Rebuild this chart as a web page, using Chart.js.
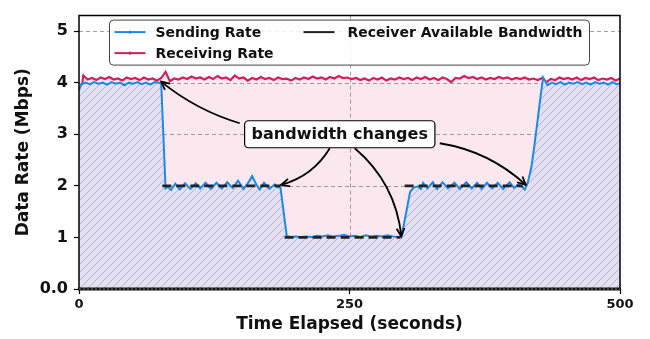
<!DOCTYPE html>
<html>
<head>
<meta charset="utf-8">
<script src="https://cdn.jsdelivr.net/npm/chart.js@4.4.1/dist/chart.umd.min.js"></script>
<style>
  html, body { margin: 0; padding: 0; background: #fff; }
  #wrap { width: 650px; height: 339px; }
</style>
</head>
<body>
<div id="wrap"><canvas id="rateChart" width="650" height="339"></canvas></div>
<script>
// Sending rate samples: time (s) and rate (Mbps)
const sendTimes = [
  0, 2, 6, 10, 14, 18, 22, 26, 30, 34, 38, 42, 46, 50, 54, 58, 62, 66, 70, 74, 76,
  80, 82, 85, 89, 93, 98, 103, 108, 112, 117, 122, 127, 132, 137, 142, 147, 152, 156, 160, 164, 167, 171, 176, 181, 184, 186,
  192, 196, 200, 205, 210, 215, 220, 225, 230, 235, 240, 245, 250, 255, 260, 265, 270, 275, 280, 285, 290, 295, 297,
  300, 303, 306, 309, 313, 316, 318, 322, 327, 331, 336, 341, 347, 352, 358, 363, 368, 372, 377, 382, 387, 392, 398, 402, 406, 410,
  412, 415, 418, 421, 424, 427, 429, 433, 437, 441, 445, 449, 453, 457, 461, 465, 469, 473, 477, 481, 485, 489, 493, 497, 500
];
const sendRates = [
  3.85, 3.97, 4.00, 3.97, 4.01, 3.98, 4.00, 3.96, 4.01, 3.98, 4.00, 3.95, 4.00, 3.98, 4.01, 3.97, 4.00, 3.96, 4.01, 4.00, 3.98,
  1.95, 1.98, 1.92, 2.04, 1.93, 2.05, 1.94, 2.05, 1.95, 2.06, 1.94, 2.06, 1.95, 2.07, 1.96, 2.10, 1.94, 2.05, 2.19, 2.02, 1.93, 2.06, 1.94, 2.03, 1.97, 2.00,
  1.03, 1.01, 1.02, 1.01, 1.02, 1.01, 1.03, 1.02, 1.04, 1.02, 1.03, 1.05, 1.02, 1.03, 1.01, 1.04, 1.02, 1.03, 1.02, 1.04, 1.02, 1.01, 1.01,
  1.22, 1.55, 1.88, 1.96, 1.99, 1.94, 2.06, 1.95, 2.07, 1.94, 2.07, 1.95, 2.06, 1.94, 2.07, 1.95, 2.06, 1.94, 2.06, 1.95, 2.06, 1.94, 2.07, 1.96, 2.03, 1.97,
  1.93, 2.08, 2.35, 2.80, 3.30, 3.80, 4.10, 3.95, 4.00, 3.97, 4.01, 3.96, 4.00, 3.98, 4.01, 3.97, 4.00, 3.96, 4.01, 3.98, 4.00, 3.96, 4.01, 3.97, 3.99
];

// Receiving rate, one sample every recvStep seconds from 0 to 500
const recvStep = 4;
const recvRates = [
  3.55, 4.14, 4.06, 4.09, 4.05, 4.10, 4.07, 4.11, 4.06, 4.08,
  4.04, 4.10, 4.07, 4.09, 4.05, 4.10, 4.06, 4.08, 4.04, 4.09,
  4.21, 4.03, 4.08, 4.06, 4.10, 4.07, 4.12, 4.08, 4.10, 4.06,
  4.11, 4.07, 4.13, 4.08, 4.10, 4.05, 4.14, 4.08, 4.10, 4.04,
  4.09, 4.06, 4.11, 4.07, 4.09, 4.05, 4.10, 4.07, 4.08, 4.04,
  4.09, 4.06, 4.10, 4.07, 4.12, 4.08, 4.10, 4.06, 4.11, 4.08,
  4.13, 4.09, 4.10, 4.07, 4.09, 4.05, 4.08, 4.04, 4.09, 4.06,
  4.10, 4.04, 4.08, 4.06, 4.10, 4.07, 4.09, 4.05, 4.10, 4.07,
  4.11, 4.06, 4.09, 4.05, 4.10, 4.07, 4.01, 4.09, 4.08, 4.13,
  4.09, 4.11, 4.07, 4.10, 4.06, 4.09, 4.07, 4.11, 4.08, 4.10,
  4.06, 4.09, 4.07, 4.10, 4.06, 4.08, 4.05, 4.09, 4.01, 4.07,
  4.05, 4.10, 4.07, 4.09, 4.06, 4.10, 4.05, 4.09, 4.07, 4.10,
  4.05, 4.08, 4.06, 4.09, 4.04, 4.08
];

// Receiver available bandwidth steps (null breaks the line)
const bwTimes = [77, 186, 188, 190, 297, 299, 301, 410];
const bwRates = [2, 2, null, 1, 1, null, 2, 2];

const xTicks = [0, 250, 500];
const yTicks = [0, 1, 2, 3, 4, 5];

// annotation: label placed at (time, rate), arrows pointing at the bandwidth changes
const noteText = 'bandwidth changes';
const noteAt = [241, 3.0];
const noteTargets = [[75, 4], [186, 2], [297, 1], [412, 2]];

const FONT = "'DejaVu Sans', 'Liberation Sans', sans-serif";

// diagonal hatch used under the sending rate
function makeHatch() {
  const s = 8;
  const c = document.createElement('canvas');
  c.width = s; c.height = s;
  const g = c.getContext('2d');
  g.fillStyle = '#e4e0f1';
  g.fillRect(0, 0, s, s);
  g.strokeStyle = '#afb1db';
  g.lineWidth = 1;
  g.beginPath();
  g.moveTo(0, s); g.lineTo(s, 0);
  g.moveTo(-1, 1); g.lineTo(1, -1);
  g.moveTo(s - 1, s + 1); g.lineTo(s + 1, s - 1);
  g.stroke();
  return g.createPattern(c, 'repeat');
}

const sendData = sendTimes.map((t, i) => ({ x: t, y: sendRates[i] }));
const recvData = recvRates.map((v, i) => ({ x: i * recvStep, y: v }));
const bwData = bwTimes.map((t, i) => ({ x: t, y: bwRates[i] }));

// dashed grid drawn over the fills, under the lines
const gridOnTop = {
  id: 'gridOnTop',
  beforeDatasetsDraw(chart) {
    const { ctx, chartArea: a, scales: { x, y } } = chart;
    ctx.save();
    ctx.strokeStyle = '#8a8a8a';
    ctx.lineWidth = 0.8;
    ctx.setLineDash([4, 3]);
    yTicks.forEach(v => {
      if (v === 0) return;
      const py = Math.round(y.getPixelForValue(v)) + 0.5;
      ctx.beginPath(); ctx.moveTo(a.left, py); ctx.lineTo(a.right, py); ctx.stroke();
    });
    xTicks.forEach(v => {
      const px = Math.round(x.getPixelForValue(v)) + 0.5;
      if (px <= a.left + 1 || px >= a.right - 1) return;
      ctx.beginPath(); ctx.moveTo(px, a.top); ctx.lineTo(px, a.bottom); ctx.stroke();
    });
    ctx.restore();
  }
};

function drawArrow(ctx, sx, sy, ex, ey, rad) {
  const dx = ex - sx, dy = ey - sy;
  const cx = (sx + ex) / 2 + rad * dy;
  const cy = (sy + ey) / 2 - rad * dx;
  ctx.beginPath();
  ctx.moveTo(sx, sy);
  ctx.quadraticCurveTo(cx, cy, ex, ey);
  ctx.stroke();
  const ang = Math.atan2(ey - cy, ex - cx);
  const hl = 9, hw = 0.45;
  ctx.beginPath();
  ctx.moveTo(ex - hl * Math.cos(ang - hw), ey - hl * Math.sin(ang - hw));
  ctx.lineTo(ex, ey);
  ctx.lineTo(ex - hl * Math.cos(ang + hw), ey - hl * Math.sin(ang + hw));
  ctx.stroke();
}

// frame, annotation and legend
const overlay = {
  id: 'overlay',
  afterDatasetsDraw(chart) {
    const { ctx, chartArea: a, scales: { x, y } } = chart;
    ctx.save();
    // frame
    ctx.strokeStyle = '#000';
    ctx.lineWidth = 1.5;
    ctx.beginPath();
    ctx.moveTo(a.left, a.bottom); ctx.lineTo(a.left, a.top);
    ctx.lineTo(a.right, a.top); ctx.lineTo(a.right, a.bottom);
    ctx.stroke();
    ctx.lineWidth = 3;
    ctx.strokeStyle = '#111';
    ctx.beginPath(); ctx.moveTo(a.left - 1, a.bottom); ctx.lineTo(a.right + 1, a.bottom); ctx.stroke();
    ctx.lineWidth = 1;
    ctx.strokeStyle = '#777';
    ctx.setLineDash([2, 2]);
    ctx.beginPath(); ctx.moveTo(a.left, a.bottom); ctx.lineTo(a.right, a.bottom); ctx.stroke();
    ctx.setLineDash([]);

    // annotation arrows
    const bx = x.getPixelForValue(noteAt[0]);
    const by = y.getPixelForValue(noteAt[1]);
    const starts = [[-100, -11], [-10, 14], [15, 14], [100, 9]];
    const bends = [0.1, 0.2, 0.2, 0.15];
    ctx.strokeStyle = '#000';
    ctx.lineWidth = 1.8;
    noteTargets.forEach((t, i) => {
      drawArrow(ctx, bx + starts[i][0], by + starts[i][1],
        x.getPixelForValue(t[0]) + 1, y.getPixelForValue(t[1]) - 1, bends[i]);
    });

    // annotation box
    ctx.font = 'bold 16px ' + FONT;
    const tw = ctx.measureText(noteText).width;
    const bw = tw + 14, bh = 27;
    ctx.beginPath();
    ctx.roundRect(bx - bw / 2, by - bh / 2, bw, bh, 4);
    ctx.fillStyle = '#fff';
    ctx.fill();
    ctx.lineWidth = 1.2;
    ctx.strokeStyle = '#000';
    ctx.stroke();
    ctx.fillStyle = '#111';
    ctx.textAlign = 'center';
    ctx.textBaseline = 'middle';
    ctx.fillText(noteText, bx, by + 1);

    // legend
    const lx = a.left + 30.5, ly = a.top + 4.5;
    ctx.beginPath();
    ctx.roundRect(lx, ly, 480, 45, 4);
    ctx.fillStyle = 'rgba(255,255,255,0.85)';
    ctx.fill();
    ctx.lineWidth = 1;
    ctx.strokeStyle = '#444';
    ctx.stroke();
    const ds = chart.data.datasets;
    const items = [
      { d: ds[1], x: lx + 5, y: ly + 12, gap: 41, dot: true },
      { d: ds[2], x: lx + 5, y: ly + 33, gap: 41, dot: true },
      { d: ds[0], x: lx + 194, y: ly + 12, gap: 44, dot: false }
    ];
    ctx.font = 'bold 14px ' + FONT;
    ctx.textAlign = 'left';
    items.forEach(it => {
      ctx.strokeStyle = it.d.borderColor;
      ctx.lineWidth = 2;
      ctx.setLineDash([]);
      ctx.beginPath(); ctx.moveTo(it.x, it.y); ctx.lineTo(it.x + 31, it.y); ctx.stroke();
      if (it.dot) {
        ctx.fillStyle = it.d.borderColor;
        ctx.beginPath(); ctx.arc(it.x + 15.5, it.y, 1.6, 0, Math.PI * 2); ctx.fill();
      }
      ctx.fillStyle = '#111';
      ctx.fillText(it.d.label, it.x + it.gap, it.y + 1);
    });
    ctx.restore();
  }
};

const tickFont = size => ({ family: FONT, size: size, weight: 'bold' });

new Chart(document.getElementById('rateChart'), {
  type: 'line',
  data: {
    datasets: [
      {
        label: 'Receiver Available Bandwidth',
        data: bwData,
        borderColor: '#222',
        borderWidth: 2.8,
        borderDash: [9, 5],
        spanGaps: false,
        fill: false
      },
      {
        label: 'Sending Rate',
        data: sendData,
        borderColor: '#1e88e5',
        borderWidth: 2,
        backgroundColor: makeHatch(),
        fill: 'origin'
      },
      {
        label: 'Receiving Rate',
        data: recvData,
        borderColor: '#d81b60',
        borderWidth: 2.2,
        backgroundColor: 'rgba(216,27,96,0.1)',
        fill: '-1'
      }
    ]
  },
  options: {
    responsive: false,
    animation: false,
    parsing: false,
    layout: { padding: { top: 8, right: 30, bottom: 0, left: 0 } },
    elements: { point: { radius: 0 }, line: { tension: 0 } },
    plugins: { legend: { display: false }, tooltip: { enabled: false } },
    scales: {
      x: {
        type: 'linear',
        min: 0,
        max: 500,
        afterBuildTicks: s => { s.ticks = xTicks.map(v => ({ value: v })); },
        afterFit: s => { s.height = 50; },
        border: { display: false },
        grid: { drawOnChartArea: false, tickLength: 5, tickColor: '#000', tickWidth: 1.2 },
        ticks: { font: tickFont(13), color: '#111', padding: 3, maxRotation: 0, autoSkip: false },
        title: {
          display: true,
          text: 'Time Elapsed (seconds)',
          color: '#111',
          font: tickFont(17),
          padding: { top: 0, bottom: 4 }
        }
      },
      y: {
        min: 0,
        max: 5.3,
        afterBuildTicks: s => { s.ticks = yTicks.map(v => ({ value: v })); },
        afterFit: s => { s.width = 79; },
        border: { display: false },
        grid: { drawOnChartArea: false, tickLength: 5, tickColor: '#000', tickWidth: 1.2 },
        ticks: {
          font: tickFont(16),
          color: '#111',
          padding: 6,
          callback: v => (v === 0 ? '0.0' : String(v))
        },
        title: {
          display: true,
          text: 'Data Rate (Mbps)',
          color: '#111',
          font: tickFont(17),
          padding: { top: 13, bottom: 0 }
        }
      }
    }
  },
  plugins: [gridOnTop, overlay]
});
</script>
</body>
</html>
